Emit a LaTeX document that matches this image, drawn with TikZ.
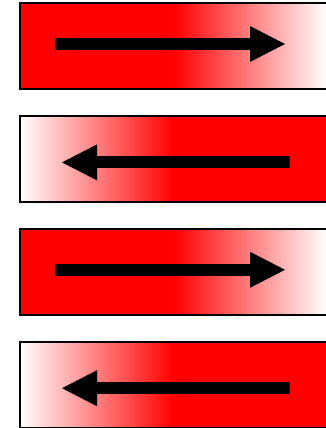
\documentclass[tikz,border=0pt]{standalone}
\usetikzlibrary{arrows.meta}
\pgfdeclarehorizontalshading{redfade}{100bp}{color(0bp)=(red); color(25bp)=(red); color(50bp)=(red); color(75bp)=(white); color(100bp)=(white)}
\pgfdeclarehorizontalshading{fadered}{100bp}{color(0bp)=(white); color(25bp)=(white); color(50bp)=(red); color(75bp)=(red); color(100bp)=(red)}
\tikzset{
  slab/.style={draw=black, line width=2},
  push/.style={line width=12, -{Triangle[length=35pt, width=36pt, line width=0pt]}}
}
\begin{document}
\begin{tikzpicture}[x=1pt, y=-1pt]
    \useasboundingbox (0,0) rectangle (325,428);
    \foreach \i in {0,...,3} {
        \pgfmathsetmacro{\ytop}{3+112.9*\i}
        \ifodd\i
            \shade[slab, shading=fadered] (20,\ytop) rectangle (327,\ytop+86);
            \coordinate (tail\i) at (290,\ytop+46.5);
            \coordinate (tip\i) at (62,\ytop+46.5);
        \else
            \shade[slab, shading=redfade] (20,\ytop) rectangle (327,\ytop+86);
            \coordinate (tail\i) at (55,\ytop+41);
            \coordinate (tip\i) at (285,\ytop+41);
        \fi
        \draw[push] (tail\i) -- (tip\i);
    }
\end{tikzpicture}
\end{document}
